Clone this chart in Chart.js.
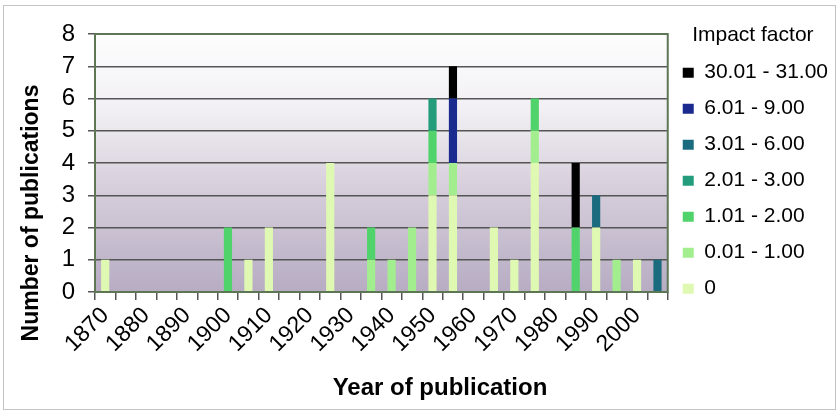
<!DOCTYPE html>
<html>
<head>
<meta charset="utf-8">
<script src="https://cdn.jsdelivr.net/npm/chart.js@4/dist/chart.umd.min.js"></script>
<style>
  html, body { margin: 0; padding: 0; background: #ffffff; }
  #wrap { position: relative; width: 839px; height: 411px; }
</style>
</head>
<body>
<div id="wrap"><canvas id="chart" width="839" height="411"></canvas></div>
<script>
// Five-year bins of publication year
const years = ['1870','1875','1880','1885','1890','1895','1900','1905','1910','1915',
               '1920','1925','1930','1935','1940','1945','1950','1955','1960','1965',
               '1970','1975','1980','1985','1990','1995','2000','2005'];

// Decade labels shown under every second bin
const decadeLabels = ['1870','1880','1890','1900','1910','1920','1930',
                      '1940','1950','1960','1970','1980','1990','2000'];

// Number of publications per bin, split by journal impact factor class
const ifZero      = [1,0,0,0,0,0,0,1,2,0,0,4,0,0,0,0,3,3,0,2,1,4,0,0,2,0,1,0];
const if0to1      = [0,0,0,0,0,0,0,0,0,0,0,0,0,1,1,2,1,1,0,0,0,1,0,0,0,1,0,0];
const if1to2      = [0,0,0,0,0,0,2,0,0,0,0,0,0,1,0,0,1,0,0,0,0,1,0,2,0,0,0,0];
const if2to3      = [0,0,0,0,0,0,0,0,0,0,0,0,0,0,0,0,1,0,0,0,0,0,0,0,0,0,0,0];
const if3to6      = [0,0,0,0,0,0,0,0,0,0,0,0,0,0,0,0,0,0,0,0,0,0,0,0,1,0,0,1];
const if6to9      = [0,0,0,0,0,0,0,0,0,0,0,0,0,0,0,0,0,2,0,0,0,0,0,0,0,0,0,0];
const if30to31    = [0,0,0,0,0,0,0,0,0,0,0,0,0,0,0,0,0,1,0,0,0,0,0,2,0,0,0,0];

const classNames = ['0','0.01 - 1.00','1.01 - 2.00','2.01 - 3.00','3.01 - 6.00','6.01 - 9.00','30.01 - 31.00'];
const classValues = [ifZero, if0to1, if1to2, if2to3, if3to6, if6to9, if30to31];
const classColors = ['#e0f9b2','#a2ee8e','#50d36a','#239c7c','#1b6b7f','#1b2a8f','#000000'];

const FONT = '"Liberation Sans", Arial, Helvetica, sans-serif';
Chart.defaults.font.family = FONT;
Chart.defaults.color = '#000000';

// Plot background gradient and frame, axis titles, outer border
const decor = {
  id: 'decor',
  beforeDraw(chart) {
    const { ctx, chartArea: a } = chart;
    const g = ctx.createLinearGradient(0, a.top, 0, a.bottom);
    g.addColorStop(0, '#fefefe');
    g.addColorStop(0.3, '#f1eff3');
    g.addColorStop(0.6, '#d6cedb');
    g.addColorStop(1, '#b7acc3');
    ctx.save();
    ctx.fillStyle = g;
    ctx.fillRect(a.left, a.top, a.right - a.left, a.bottom - a.top);
    ctx.restore();
  },
  afterDraw(chart) {
    const { ctx, chartArea: a } = chart;
    ctx.save();
    ctx.strokeStyle = '#5d7654';
    ctx.lineWidth = 2;
    ctx.strokeRect(a.left, a.top, a.right - a.left, a.bottom - a.top);

    ctx.strokeStyle = '#c4c4c4';
    ctx.lineWidth = 1;
    ctx.strokeRect(3.5, 5.5, 832, 404);

    ctx.fillStyle = '#000000';
    ctx.font = 'bold 24px ' + FONT;
    ctx.textAlign = 'center';
    ctx.textBaseline = 'middle';
    ctx.fillText('Year of publication', 440, 388);

    ctx.translate(32, 213);
    ctx.rotate(-Math.PI / 2);
    ctx.font = 'bold 23px ' + FONT;
    ctx.fillText('Number of publications', 0, 0);
    ctx.restore();
  }
};

new Chart(document.getElementById('chart'), {
  type: 'bar',
  data: {
    labels: years,
    datasets: classNames.map((name, i) => ({
      label: name,
      data: classValues[i],
      backgroundColor: classColors[i],
      borderWidth: 0,
      categoryPercentage: 1,
      barPercentage: 0.4,
      stack: 'pubs'
    }))
  },
  options: {
    responsive: false,
    animation: false,
    devicePixelRatio: 1,
    layout: { padding: { top: 25, right: 1, bottom: 0, left: 0 } },
    plugins: {
      tooltip: { enabled: false },
      legend: {
        position: 'right',
        align: 'start',
        reverse: true,
        title: {
          display: true,
          text: 'Impact factor',
          font: { size: 21 },
          padding: { top: 0, bottom: -3 }
        },
        labels: {
          boxWidth: 11,
          boxHeight: 10,
          padding: 15,
          font: { size: 21 },
          color: '#000000'
        }
      }
    },
    scales: {
      x: {
        stacked: true,
        grid: {
          offset: true,
          drawOnChartArea: false,
          drawTicks: true,
          tickLength: 8,
          color: '#555555',
          lineWidth: 1.5
        },
        border: { display: false },
        ticks: {
          autoSkip: false,
          minRotation: 45,
          maxRotation: 45,
          padding: 2,
          font: { size: 23 },
          color: '#000000',
          callback: (v, i) => (i % 2 === 0 ? decadeLabels[i / 2] : '')
        },
        afterFit: s => { s.height = 119; }
      },
      top: {
        position: 'top',
        type: 'linear',
        display: true,
        grid: { display: false },
        border: { display: false },
        ticks: { display: false },
        afterFit: s => { s.height = 9; }
      },
      y: {
        stacked: true,
        min: 0,
        max: 8,
        ticks: {
          stepSize: 1,
          padding: 13,
          font: { size: 24 },
          color: '#000000'
        },
        grid: {
          color: '#555555',
          lineWidth: 1.5,
          drawTicks: true,
          tickLength: 7
        },
        border: { display: false },
        afterFit: s => { s.width = 95; }
      }
    }
  },
  plugins: [decor]
});
</script>
</body>
</html>
